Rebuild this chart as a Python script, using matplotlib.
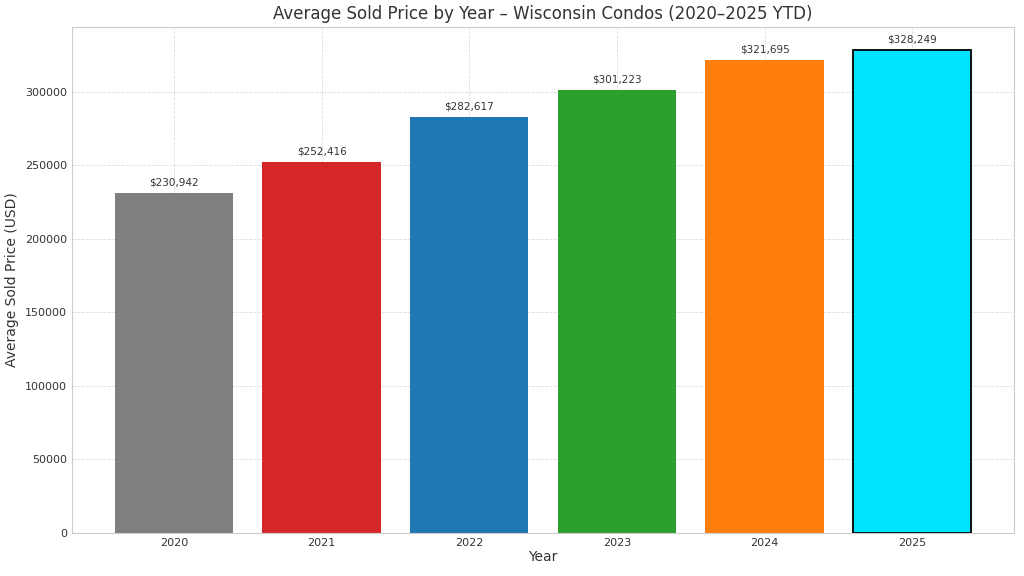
import matplotlib
matplotlib.use("Agg")
import matplotlib.pyplot as plt

years = ["2020", "2021", "2022", "2023", "2024", "2025"]
prices = [230942, 252416, 282617, 301223, 321695, 328249]
colors = ["#7f7f7f", "#d62728", "#1f77b4", "#2ca02c", "#ff7f0e", "#00e5ff"]

plt.style.use("seaborn-v0_8-whitegrid")
plt.rcParams["font.family"] = "DejaVu Sans"
fig = plt.figure(figsize=(10.24, 5.76), dpi=100)
ax = fig.add_axes([0.0703, 0.075, 0.920, 0.878])
bars = ax.bar(years, prices, color=colors, width=0.8)
bars[-1].set_edgecolor("black")
bars[-1].set_linewidth(1.3)
for b, v in zip(bars, prices):
    ax.annotate(f"${v:,}", (b.get_x() + b.get_width() / 2, v), xytext=(0, 4),
                textcoords="offset points", ha="center", va="bottom", fontsize=7.5, color="#333333")
ax.set_ylim(0, 344000)
ax.set_title("Average Sold Price by Year – Wisconsin Condos (2020–2025 YTD)", fontsize=12, color="#333333")
ax.set_xlabel("Year", fontsize=10, color="#333333", labelpad=2)
ax.set_ylabel("Average Sold Price (USD)", fontsize=10, color="#333333")
ax.tick_params(labelsize=8, colors="#333333")
ax.grid(True, linestyle="--", linewidth=0.6, color="#dddddd")
ax.set_axisbelow(True)
for s in ax.spines.values():
    s.set_visible(True)
    s.set_color("#cccccc")
    s.set_linewidth(0.8)
fig.savefig("out.png", dpi=100)
